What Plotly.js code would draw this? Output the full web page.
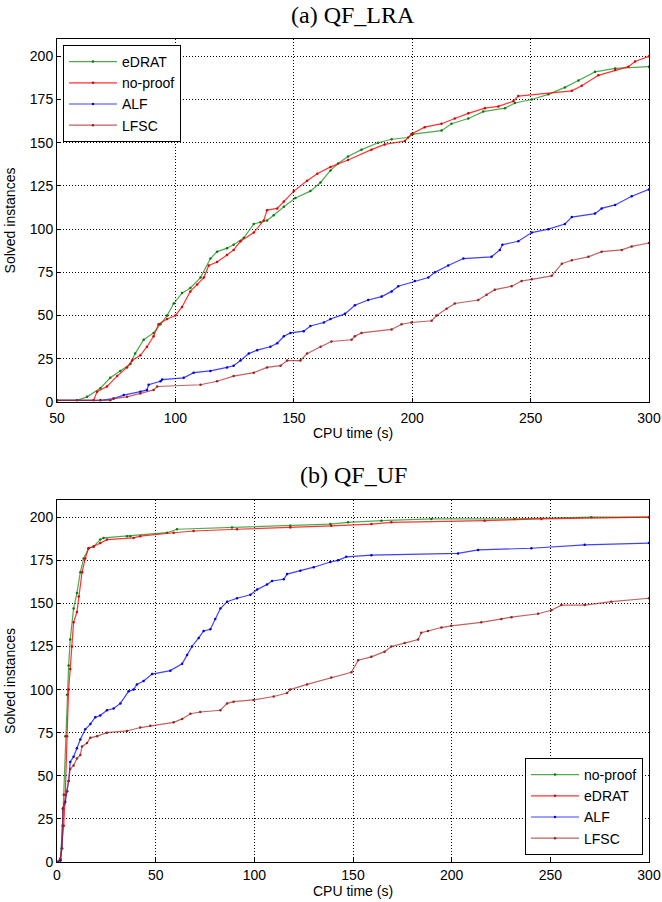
<!DOCTYPE html>
<html><head><meta charset="utf-8">
<script src="https://cdn.plot.ly/plotly-3.0.1.min.js"></script>
<style>html,body{margin:0;padding:0;background:#fff}</style>
</head><body>
<div id="chart" style="width:662px;height:902px"></div>
<script>
// ---- (a) QF_LRA ----
const lraNames = ["eDRAT", "no-proof", "ALF", "LFSC"];
const lraEdratX = [50,58.4,62.7,68.3,72.5,76.7,81,83,86.6,90.8,93.7,96.5,99.3,102.8,106.3,110.6,114.8,117.6,121.8,124.6,128.9,133.1,135.9,138.7,141.5,145.8,150.7,157,161.3,165.5,168.7,172.9,178.6,185.6,191.3,198.3,200.4,212.4,216.6,223.7,230,239.2,243.4,250.5,257.5,264.5,270.2,277.2,285.7,300];
const lraEdratY = [1,1,3,8,14,18,22,28,36,40,45,50,57,63,66,72,83,87,89,91,95,103,104,105,108,113,118,122,127,134,138,142,146,150,152,153,155,157,161,164,168,170,173,175,178,182,186,191,193,194];
const lraNoproofX = [50,65.5,66.9,71.1,75.4,79.6,81.7,85.2,88,90.8,92.9,96.5,100,102.8,106.3,109.2,112,114.1,117.6,121.8,124.6,127.5,133.1,137.3,138.7,143,145.8,150,155.6,159.9,165.5,172.9,182.8,188.4,196.9,199.7,205.3,212.4,218,223.7,230.7,236.4,242.7,244.8,267.4,271.6,278.6,285.7,291.3,294.1,300];
const lraNoproofY = [1,1,6,9,15,20,24,27,32,38,45,48,50,55,64,68,72,79,81,85,88,93,98,105,111,112,116,122,128,132,136,140,146,149,151,155,159,161,164,167,170,171,174,177,180,183,189,192,194,197,200];
const lraAlfX = [50,68.3,73.9,78.2,85.2,88,88.7,93.7,94.4,103.5,107.7,114.8,121.8,124.6,127.5,131,134.5,140.1,143,145.8,148.6,154.2,157,162.7,165.5,171.6,175.8,181.4,187.1,191.3,194.1,201.1,206.8,209.6,215.2,221.6,233.5,237,238.1,244.8,250.5,257.5,264.5,267.4,277.2,280,285.7,292.7,300];
const lraAlfY = [1,1,2,4,6,7,10,12,13,14,17,18,20,21,24,28,30,32,34,38,40,41,44,46,48,51,56,59,61,64,67,70,72,75,79,83,84,88,91,93,98,100,103,107,109,112,114,119,123];
const lraLfscX = [50,72.5,73.9,79.6,85.2,90.8,92.3,110.6,117.6,124.6,133.1,138.7,144.4,147.2,152.8,155.6,161.3,165.9,174.4,175.8,178.6,191.3,195.5,199.7,208.2,210.3,214.5,218,227.9,231.4,234.9,242,246.2,250.5,258.9,263.2,267.4,274.4,280,288.5,292.7,300];
const lraLfscY = [1,1,2,3,5,7,9,10,12,15,17,20,21,24,24,28,32,35,36,38,40,42,45,46,47,50,54,57,59,62,65,67,70,71,73,80,82,84,87,88,90,92];

// ---- (b) QF_UF ----
const ufNames = ["no-proof", "eDRAT", "ALF", "LFSC"];
const ufNoproofX = [0,1.7,2.8,3.4,4.2,5.1,5.9,6.7,8.4,10.1,11.8,13.5,16,18.6,21.9,23.6,35.5,37.2,55.8,60.8,88.7,118.2,138.5,147.5,164.4,189.7,231.9,270.8,300];
const ufNoproofY = [0,1,21,39,73,97,114,129,147,156,168,176,182,183,187,188,189,189,191,193,194,195,196,197,198,199,199,200,200];
const ufEdratX = [0,1.7,3.4,4.2,5.1,5.9,6.7,7.6,8.4,10.1,11,12.7,14.3,16,18.6,21.9,25.3,38.8,42.2,59.1,69.2,91.2,118.2,139,159.3,169.4,216.7,245.5,300];
const ufEdratY = [0,1,21,39,73,100,112,125,139,145,154,168,176,182,183,185,187,188,189,191,192,193,194,195,196,197,198,199,200];
const ufAlfX = [0,1.7,2.5,3,4.2,5.1,5.9,6.7,8.4,10.1,11.8,14.3,16.9,19.4,21.9,25.3,28.7,32.1,36.3,38.8,40.5,43.9,48.2,57.4,63.4,65.9,68.4,71.8,74.3,77.7,80.2,82.8,86.2,91.2,98,101.4,106.4,109,114.9,116.6,123.3,130.1,138.5,142.4,146.6,159.3,203.2,213.4,240.4,267.4,300];
const ufAlfY = [0,1,8,31,35,41,47,58,61,66,71,77,80,84,85,88,89,92,99,100,103,105,109,111,115,120,125,130,134,135,141,147,151,153,155,158,161,163,164,167,169,171,174,175,177,178,179,181,182,184,185];
const ufLfscX = [0,1.7,2.5,3,3.8,5.1,5.9,6.7,8.4,10.1,11.8,12.7,15.2,16.9,20.3,25.3,35.5,42.2,47.3,59.1,63.4,67.6,72.6,82.8,86.2,89.5,99.6,109.8,116.6,118.2,126.7,139,149.2,152.6,159.3,166,169.4,176.2,183,184.6,188,194.8,199.8,215,225.2,230.3,243.8,250.5,255.6,267.4,280.9,300];
const ufLfscY = [0,2,8,31,34,41,47,54,56,60,62,67,69,72,73,75,76,78,79,81,83,86,87,88,92,93,94,96,98,100,103,107,110,117,119,122,125,127,129,133,134,136,137,139,141,142,144,146,149,149,151,153];

const yTicks = [0,25,50,75,100,125,150,175,200];

const lineCols = ["rgba(20,140,20,0.75)", "rgba(255,0,0,0.8)", "rgba(0,0,255,0.75)", "rgba(170,45,45,0.75)"];
const markCols = ["#0b7a0b", "#e00000", "#0000dd", "#992222"];

function mk(x, y, name, i, xa, ya, leg) {
  return {x: x, y: y, name: name, type: "scatter", mode: "lines+markers",
    xaxis: xa, yaxis: ya, legend: leg,
    line: {color: lineCols[i], width: 1.2},
    marker: {color: markCols[i], size: 2.5}};
}

const data = [
  mk(lraEdratX, lraEdratY, lraNames[0], 0, "x", "y", "legend"),
  mk(lraNoproofX, lraNoproofY, lraNames[1], 1, "x", "y", "legend"),
  mk(lraAlfX, lraAlfY, lraNames[2], 2, "x", "y", "legend"),
  mk(lraLfscX, lraLfscY, lraNames[3], 3, "x", "y", "legend"),
  mk(ufNoproofX, ufNoproofY, ufNames[0], 0, "x2", "y2", "legend2"),
  mk(ufEdratX, ufEdratY, ufNames[1], 1, "x2", "y2", "legend2"),
  mk(ufAlfX, ufAlfY, ufNames[2], 2, "x2", "y2", "legend2"),
  mk(ufLfscX, ufLfscY, ufNames[3], 3, "x2", "y2", "legend2")
];

const sans = "Liberation Sans, Arial, sans-serif";
const serif = "Liberation Serif, Times New Roman, serif";
const axBase = {
  showline: true, linecolor: "#000", linewidth: 1, mirror: true,
  showgrid: true, gridcolor: "#000", gridwidth: 1, griddash: "1px,2px",
  zeroline: false, ticks: "inside", ticklen: 4, tickcolor: "#000",
  tickfont: {family: sans, size: 14, color: "#000"}, automargin: false
};
function ax(extra) { return Object.assign({}, axBase, extra); }

const xTitle = "CPU time (s)";

const layout = {
  width: 662, height: 902,
  margin: {l: 57, r: 13, t: 39, b: 40},
  paper_bgcolor: "#fff", plot_bgcolor: "#fff",
  font: {family: sans, size: 14, color: "#000"},
  xaxis: ax({domain: [0, 1], anchor: "y", range: [50, 300], tickvals: [50,100,150,200,250,300],
    ticklabelstandoff: 3}),
  yaxis: ax({domain: [0.5589, 1], anchor: "x", range: [0, 210], tickvals: yTicks,
    title: {text: "Solved instances", font: {family: sans, size: 14}, standoff: 10}}),
  xaxis2: ax({domain: [0, 1], anchor: "y2", range: [0, 300], tickvals: [0,50,100,150,200,250,300],
    ticklabelstandoff: 0}),
  yaxis2: ax({domain: [0, 0.4399], anchor: "x2", range: [0, 210], tickvals: yTicks,
    title: {text: "Solved instances", font: {family: sans, size: 14}, standoff: 10}}),
  legend: {x: 0.0101, y: 0.9927, xanchor: "left", yanchor: "top", xref: "paper", yref: "paper",
    bgcolor: "#fff", bordercolor: "#000", borderwidth: 1,
    font: {family: sans, size: 14, color: "#000"}, tracegroupgap: 0, itemwidth: 48},
  legend2: {x: 0.9899, y: 0.0085, xanchor: "right", yanchor: "bottom", xref: "paper", yref: "paper",
    bgcolor: "#fff", bordercolor: "#000", borderwidth: 1,
    font: {family: sans, size: 14, color: "#000"}, tracegroupgap: 0, itemwidth: 48},
  showlegend: true,
  annotations: [
    {text: "(a) QF_LRA", xref: "paper", yref: "paper", x: 0.5, y: 1.0292, xanchor: "center", yanchor: "middle",
     showarrow: false, font: {family: serif, size: 24, color: "#000"}},
    {text: "(b) QF_UF", xref: "paper", yref: "paper", x: 0.5, y: 0.4702, xanchor: "center", yanchor: "middle",
     showarrow: false, font: {family: serif, size: 24, color: "#000"}},
    {text: xTitle, xref: "paper", yref: "paper", x: 0.5, y: 0.5213, xanchor: "center", yanchor: "middle",
     showarrow: false, font: {family: sans, size: 14, color: "#000"}},
    {text: xTitle, xref: "paper", yref: "paper", x: 0.5, y: -0.0352, xanchor: "center", yanchor: "middle",
     showarrow: false, font: {family: sans, size: 14, color: "#000"}}
  ]
};

Plotly.newPlot("chart", data, layout, {displayModeBar: false, staticPlot: true});
</script>
</body></html>
